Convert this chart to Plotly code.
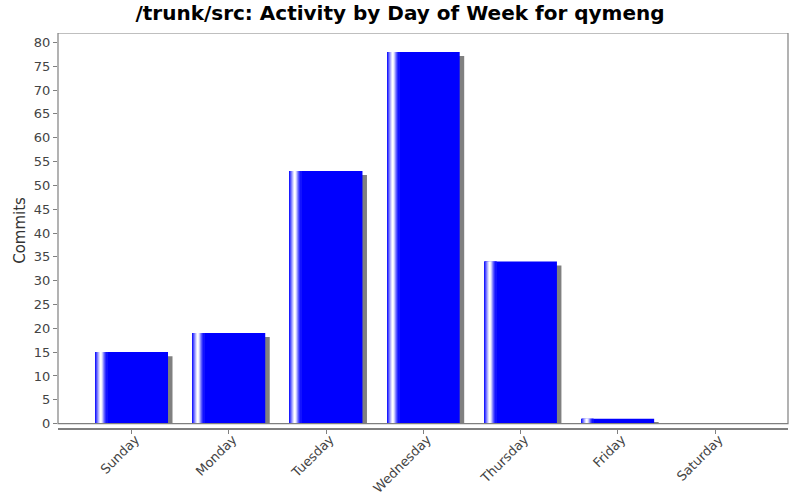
import plotly.graph_objects as go

# データ
days = ['Sunday', 'Monday', 'Tuesday', 'Wednesday', 'Thursday', 'Friday', 'Saturday']
commits = [15, 19, 53, 78, 34, 1, 0]
y_ticks = list(range(0, 81, 5))

title_text = '/trunk/src: Activity by Day of Week for qymeng'

# 見た目の設定（ピクセル換算）
px_x = 97.27      # 1カテゴリあたりのピクセル
px_y = 4.758      # 1コミットあたりのピクセル
bar_w = 0.747
shadow_dx = 4.5 / px_x
shadow_dy = 4 / px_y
stripe = 1 / px_x
# 左端のハイライト（白の割合）
whites = [0.1, 0.3, 0.5, 0.7, 0.88, 1.0, 0.95, 0.78, 0.55, 0.35, 0.18, 0.07]

x_idx = list(range(len(days)))

fig = go.Figure()

# 影
fig.add_trace(go.Bar(
    x=x_idx,
    y=[max(v - shadow_dy, 0) for v in commits],
    width=bar_w,
    offset=-bar_w / 2 + shadow_dx,
    marker=dict(color='#808080', line=dict(width=0)),
    hoverinfo='skip',
    showlegend=False,
))

# 本体
fig.add_trace(go.Bar(
    x=x_idx,
    y=commits,
    width=bar_w,
    offset=-bar_w / 2,
    marker=dict(color='#0000ff', line=dict(width=0)),
    name='Commits',
    showlegend=False,
))

# グラデーションの縞
for i, f in enumerate(whites):
    c = int(round(255 * f))
    fig.add_trace(go.Bar(
        x=x_idx,
        y=commits,
        width=stripe * 1.08,
        offset=-bar_w / 2 + i * stripe,
        marker=dict(color=f'rgb({c},{c},255)', line=dict(width=0)),
        hoverinfo='skip',
        showlegend=False,
    ))

y_top = 80 + 9.4 / px_y
y_bottom = -4.4 / px_y

fig.update_layout(
    width=800,
    height=500,
    barmode='overlay',
    plot_bgcolor='white',
    paper_bgcolor='white',
    margin=dict(l=58, r=12, t=33, b=72, autoexpand=False),
    font=dict(family='DejaVu Sans', size=13, color='#444444'),
    title=dict(text='<b>' + title_text + '</b>',
               font=dict(family='DejaVu Sans', size=20, color='black'),
               x=0.5, xanchor='center',
               y=1 - 13 / 500, yref='container', yanchor='middle',
               pad=dict(t=0, b=0)),
    xaxis=dict(range=[-0.758, 6.75],
               automargin=False,
               tickmode='array',
               tickvals=x_idx,
               ticktext=days,
               tickangle=-45,
               ticklabelstandoff=-7,
               ticklabelshift=4,
               ticks='outside', ticklen=4, tickcolor='#808080',
               showline=True, linecolor='#808080', linewidth=1.5,
               showgrid=False, zeroline=False,
               tickfont=dict(size=13, color='#444444')),
    yaxis=dict(range=[y_bottom, y_top],
               automargin=False,
               tickmode='array',
               tickvals=y_ticks,
               ticks='outside', ticklen=4, tickcolor='#808080',
               showline=False, showgrid=False, zeroline=False,
               tickfont=dict(size=13, color='#444444')),
    shapes=[dict(type='rect', xref='paper', yref='y',
                 x0=0, x1=1, y0=0, y1=y_top,
                 line=dict(color='#808080', width=1.2),
                 fillcolor='rgba(0,0,0,0)', layer='above')],
    annotations=[dict(text='Commits', xref='paper', yref='paper',
                      x=-0.053, y=0.5, textangle=-90, showarrow=False,
                      xanchor='center', yanchor='middle',
                      font=dict(size=15, color='#333333'))],
)

# ページの余白をなくす
fig.write_html("out.html",
               config={'displayModeBar': False},
               post_script="document.body.style.margin='0';")
